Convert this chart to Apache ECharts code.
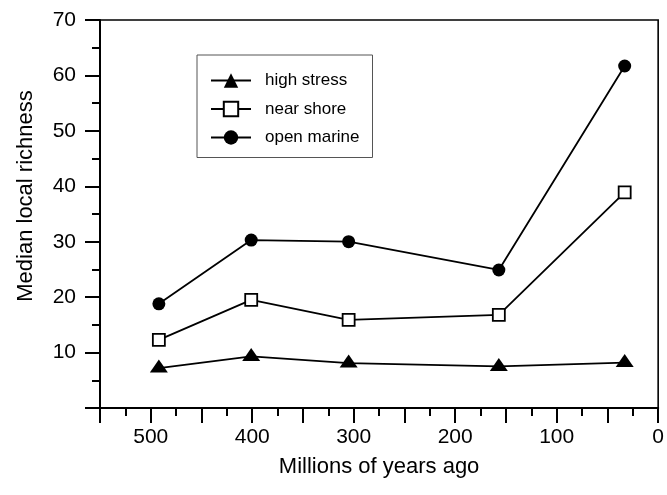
<!DOCTYPE html>
<html>
<head>
<meta charset="utf-8">
<script src="https://cdn.jsdelivr.net/npm/echarts@6/dist/echarts.min.js"></script>
<style>html,body{margin:0;padding:0;background:#fff}#c{width:667px;height:495px}</style>
</head>
<body>
<div id="c"></div>
<script>
const ages = [492, 401, 305, 157, 33];
const highStress = [7.2, 9.3, 8.1, 7.5, 8.2];
const nearShore = [12.3, 19.5, 15.9, 16.8, 38.9];
const openMarine = [18.8, 30.3, 30.0, 24.9, 61.7];
const seriesNames = ['high stress', 'near shore', 'open marine'];
const xTickLabels = [500, 400, 300, 200, 100, 0];
const yTickLabels = [10, 20, 30, 40, 50, 60, 70];

const font = 'Liberation Sans, Arial, sans-serif';
const pairs = (vals) => ages.map((a, i) => [a, vals[i]]);

const chart = echarts.init(document.getElementById('c'));
chart.setOption({
  animation: false,
  backgroundColor: '#fff',
  grid: { left: 100, right: 8, top: 20, bottom: 87, show: true, borderColor: '#000', borderWidth: 1.6, backgroundColor: 'transparent' },
  legend: {
    left: 197, top: 55,
    orient: 'vertical',
    itemWidth: 40, itemHeight: 18, itemGap: 11.5,
    padding: [17, 13, 11.5, 13],
    borderColor: '#555', borderWidth: 1,
    textStyle: { fontFamily: font, fontSize: 17, color: '#000', padding: [0, 0, 0, 9] },
    data: seriesNames
  },
  xAxis: {
    type: 'value', min: 0, max: 550, interval: 50, inverse: true,
    name: 'Millions of years ago', nameLocation: 'middle', nameGap: 48,
    nameTextStyle: { fontFamily: font, fontSize: 22, color: '#000' },
    axisLine: { show: true, onZero: false, lineStyle: { color: '#000', width: 2 } },
    axisTick: { show: true, inside: false, length: 15, lineStyle: { color: '#000', width: 2 } },
    minorTick: { show: true, splitNumber: 2, length: 8, lineStyle: { color: '#000', width: 2 } },
    splitLine: { show: false },
    axisLabel: { fontFamily: font, fontSize: 21, color: '#000', margin: 19,
      formatter: (v) => xTickLabels.indexOf(v) >= 0 ? String(v) : '' }
  },
  yAxis: {
    type: 'value', min: 0, max: 70, interval: 10,
    name: 'Median local richness', nameLocation: 'middle', nameGap: 63,
    nameTextStyle: { fontFamily: font, fontSize: 22, color: '#000', padding: [0, 0, 0, 36] },
    axisLine: { show: true, onZero: false, lineStyle: { color: '#000', width: 2 } },
    axisTick: { show: true, inside: false, length: 15, lineStyle: { color: '#000', width: 2 } },
    minorTick: { show: true, splitNumber: 2, length: 8, lineStyle: { color: '#000', width: 2 } },
    splitLine: { show: false },
    axisLabel: { fontFamily: font, fontSize: 21, color: '#000', margin: 24,
      formatter: (v) => yTickLabels.indexOf(v) >= 0 ? String(v) : '' }
  },
  series: [
    { name: seriesNames[0], type: 'line', data: pairs(highStress),
      symbol: 'triangle', symbolSize: [18, 13], symbolOffset: [0, -2],
      lineStyle: { color: '#000', width: 1.8 }, itemStyle: { color: '#000', borderColor: '#000', borderWidth: 0 } },
    { name: seriesNames[1], type: 'line', data: pairs(nearShore),
      symbol: 'rect', symbolSize: 12,
      lineStyle: { color: '#000', width: 1.8 }, itemStyle: { color: '#fff', borderColor: '#000', borderWidth: 1.8 } },
    { name: seriesNames[2], type: 'line', data: pairs(openMarine),
      symbol: 'circle', symbolSize: 13,
      lineStyle: { color: '#000', width: 1.8 }, itemStyle: { color: '#000', borderColor: '#000', borderWidth: 0 } }
  ]
});
</script>
</body>
</html>
